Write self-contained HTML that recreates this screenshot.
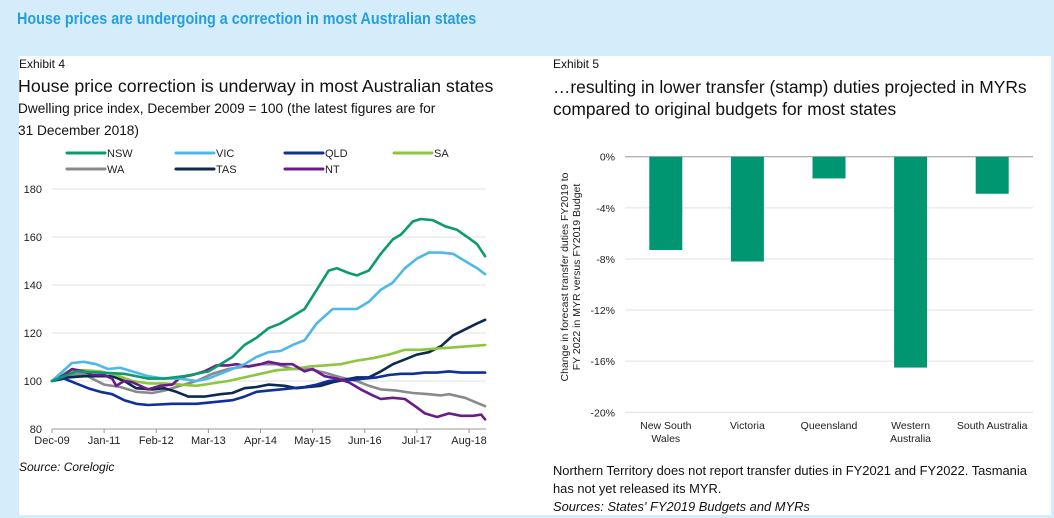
<!DOCTYPE html>
<html><head><meta charset="utf-8"><style>
body{margin:0;width:1054px;height:518px;background:#d5edfa;position:relative;overflow:hidden;font-family:"Liberation Sans",sans-serif}
.t{position:absolute;white-space:nowrap;color:#111}
#panel{position:absolute;left:19px;top:56px;width:1032px;height:459px;background:#fff}
svg{position:absolute;left:0;top:0}
</style></head><body>
<div class="t" style="left:17px;top:9px;font-size:17px;font-weight:bold;color:#259fdc;transform:scaleX(0.845);transform-origin:0 0">House prices are undergoing a correction in most Australian states</div>
<div id="panel"></div>
<div class="t" style="left:19px;top:57px;font-size:12px">Exhibit 4</div>
<div class="t" style="left:18px;top:76px;font-size:17.8px">House price correction is underway in most Australian states</div>
<div class="t" style="left:18px;top:98px;font-size:13.7px;line-height:22px">Dwelling price index, December 2009 = 100 (the latest figures are for<br>31 December 2018)</div>
<div class="t" style="left:19px;top:460px;font-size:12px;font-style:italic">Source: Corelogic</div>
<div class="t" style="left:553px;top:57px;font-size:12px">Exhibit 5</div>
<div class="t" style="left:553px;top:76px;font-size:17.4px;line-height:22px">…resulting in lower transfer (stamp) duties projected in MYRs<br>compared to original budgets for most states</div>
<div class="t" style="left:553px;top:462px;font-size:12.9px;line-height:18px">Northern Territory does not report transfer duties in FY2021 and FY2022. Tasmania<br>has not yet released its MYR.<br><i>Sources: States' FY2019 Budgets and MYRs</i></div>
<svg id="c" width="1054" height="518"></svg>
<script>
const seriesNames=["NSW","VIC","QLD","SA","WA","TAS","NT"];
const seriesColors=["#0c9a6e","#4fb8e8","#0f2f9a","#8cc63f","#8a8a8a","#0b2a4e","#6a1a8c"];
const xTickLabels=["Dec-09","Jan-11","Feb-12","Mar-13","Apr-14","May-15","Jun-16","Jul-17","Aug-18"];
const yTicks=[80,100,120,140,160,180];
const nsw=[[0,100],[6,104],[12,103.5],[18,103],[24,101],[28,101],[33,102],[39,104],[42,107],[45,110],[48,115],[51,118],[54,122],[57,124],[60,127],[63,130],[66,138],[69,146],[71,147],[74,145],[76,144],[79,146],[82,153],[85,159],[87,161],[90,166.5],[92,167.5],[95,167],[98,164.5],[101,163],[104,159.5],[106,157],[108,152]];
const vic=[[0,100],[5,107.5],[8,108],[11,107],[14,105],[17,105.5],[20,104],[24,102],[28,101],[32,101],[36,100],[39,101],[42,103],[45,105],[48,107],[51,110],[54,112],[57,112.5],[60,115],[63,117],[66,124],[68,127],[70,130],[74,130],[76,130],[79,133],[82,138],[85,141],[88,147],[91,151],[94,153.5],[97,153.5],[100,153],[103,150],[106,147],[108,144.5]];
const qld=[[0,100],[3,101],[6,99],[9,97],[12,95.5],[15,94.5],[18,92],[21,90.5],[24,90],[30,90.5],[36,90.5],[42,91.5],[45,92],[48,93.5],[51,95.5],[54,96],[57,96.5],[60,97],[63,97.5],[66,98.5],[69,100],[72,100.5],[75,100.5],[78,101],[81,101.5],[84,102.5],[87,103],[90,103],[93,103.5],[96,103.5],[99,104],[102,103.5],[105,103.5],[108,103.5]];
const sa=[[0,100],[4,104],[8,104.5],[12,104],[16,102.5],[20,100],[24,99],[28,99],[32,98.5],[36,98],[40,99],[44,100],[48,101.5],[52,103],[56,104.5],[60,105],[64,106],[68,106.5],[72,107],[76,108.5],[80,109.5],[84,111],[88,113],[92,113],[96,113.5],[100,114],[104,114.5],[108,115]];
const wa=[[0,100],[4,102.5],[8,103],[10,101],[13,98.5],[17,97.5],[21,95.5],[25,95],[28,96],[32,98],[36,100],[40,103],[44,105],[48,106],[52,107],[56,107],[60,105],[64,105],[68,103.5],[72,101.5],[76,100],[79,98],[82,96.5],[86,96],[90,95],[94,94.5],[97,94],[99,94.5],[103,93],[108,89.5]];
const tas=[[0,100],[4,101.5],[8,102],[12,102],[15,102],[18,100],[21,97],[25,96.5],[28,97],[31,95.5],[34,93.5],[38,93.5],[42,94.5],[45,95],[48,97],[51,97.5],[54,98.5],[58,98],[61,97],[64,97.5],[67,98],[70,99.5],[73,100.5],[76,101.5],[79,101.5],[82,104],[85,107],[88,109],[91,111],[94,112],[97,114.5],[100,119],[103,121.5],[106,124],[108,125.5]];
const nt=[[0,100],[3,102.5],[5,105],[8,104],[10,102.5],[13,102.5],[15,101],[16,98],[18,100],[20,99.5],[22,98],[24,96.5],[27,98],[30,98.5],[32,101.5],[35,102.5],[38,104],[41,106.5],[44,106.5],[46,107],[49,106],[52,107],[54,108],[57,107],[60,107],[63,104],[65,105],[68,102],[71,101],[74,99.5],[77,96.5],[80,94],[82,92.5],[85,93],[88,92.5],[91,89],[93,86.5],[96,85],[99,86.5],[102,85.5],[105,85.5],[107,86],[108,84]];
const barCategories=[["New South","Wales"],["Victoria"],["Queensland"],["Western","Australia"],["South Australia"]];
const barValues=[-7.3,-8.2,-1.7,-16.5,-2.9];
const barTicks=[0,-4,-8,-12,-16,-20];

const NS="http://www.w3.org/2000/svg";
const svg=document.getElementById('c');
function mk(t,a,p){const e=document.createElementNS(NS,t);for(const k in a)e.setAttribute(k,a[k]);(p||svg).appendChild(e);return e;}
const xL=m=>52+m*4.01, yL=v=>429-(v-80)*2.4;
yTicks.forEach(v=>{
  if(v>80){const g=mk('line',{x1:52,x2:486,y1:yL(v),y2:yL(v),stroke:'#e0e0e0','stroke-width':1});}
  const t=mk('text',{x:42,y:yL(v)+4,'text-anchor':'end','font-size':11,fill:'#222','font-family':'Liberation Sans'});t.textContent=v;
  
});
mk('line',{x1:52,x2:486,y1:429,y2:429,stroke:'#999','stroke-width':1});
xTickLabels.forEach((l,i)=>{
  const x=xL(i*13);
  mk('line',{x1:x,x2:x,y1:429,y2:433,stroke:'#999'});
  const t=mk('text',{x:x,y:444,'text-anchor':'middle','font-size':11,fill:'#222','font-family':'Liberation Sans'});t.textContent=l;
  
});
const allSeries=[nsw,vic,qld,sa,wa,tas,nt];
const drawOrder=[4,5,2,3,6,1,0];
drawOrder.forEach(i=>{
  const d=allSeries[i].map((p,j)=>(j?'L':'M')+xL(p[0]).toFixed(1)+' '+yL(p[1]).toFixed(1)).join('');
  const p=mk('path',{d:d,fill:'none',stroke:seriesColors[i],'stroke-width':2.6,'stroke-linejoin':'round','stroke-linecap':'round'});
  
  
});
seriesNames.forEach((n,i)=>{
  const col=i%4,row=Math.floor(i/4);
  const x=67+col*109,y=153+row*16;
  const g=mk('g',{});
  
  
  mk('line',{x1:x,x2:x+38,y1:y,y2:y,stroke:seriesColors[i],'stroke-width':3,'stroke-linecap':'round'},g);
  const t=mk('text',{x:x+40,y:y+4,'font-size':11,fill:'#222','font-family':'Liberation Sans'},g);t.textContent=n;
});
const yR=v=>156.7-v*12.78, bx0=625, bw=81.6;
barTicks.forEach(v=>{
  const g=mk('line',{x1:625,x2:1033,y1:yR(v),y2:yR(v),stroke:v===0?'#999':'#e0e0e0','stroke-width':1});
  
  const t=mk('text',{x:615,y:yR(v)+4,'text-anchor':'end','font-size':10.5,fill:'#222','font-family':'Liberation Sans'});t.textContent=v+'%';
  
});
barValues.forEach((v,i)=>{
  const cx=bx0+bw*(i+0.5);
  const r=mk('rect',{x:cx-16.5,y:yR(0),width:33,height:yR(v)-yR(0),fill:'#009672'});
  
  
  barCategories[i].forEach((l,k)=>{
    const t=mk('text',{x:cx,y:429+k*13,'text-anchor':'middle','font-size':10.5,fill:'#222','font-family':'Liberation Sans'});t.textContent=l;
    
  });
});
const yt=mk('text',{transform:'translate(568,277) rotate(-90)','text-anchor':'middle','font-size':10.5,fill:'#222','font-family':'Liberation Sans'});

const s1=mk('tspan',{x:0,dy:0},yt);s1.textContent='Change in forecast transfer duties FY2019 to';
const s2=mk('tspan',{x:0,dy:12},yt);s2.textContent='FY 2022 in MYR versus FY2019 Budget';
</script>
</body></html>
